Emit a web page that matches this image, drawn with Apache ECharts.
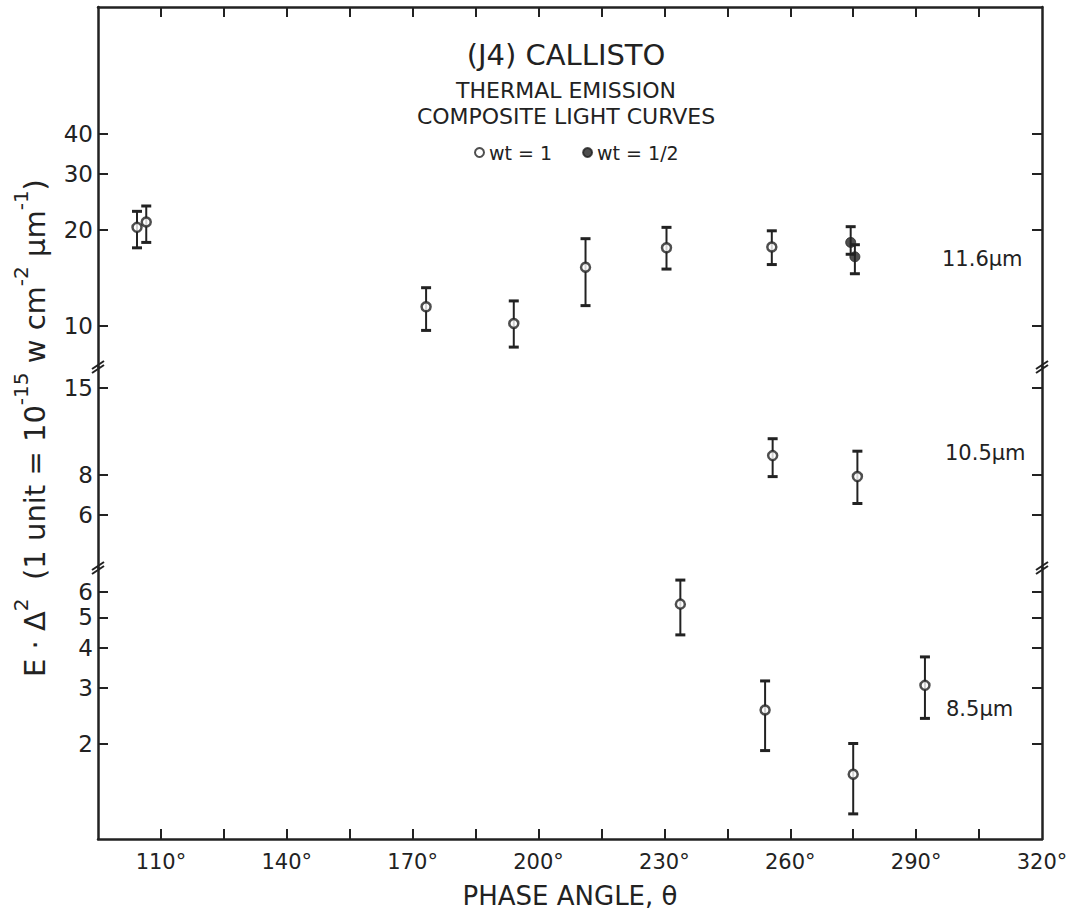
<!DOCTYPE html>
<html><head><meta charset="utf-8">
<script src="https://cdn.jsdelivr.net/npm/echarts@6/dist/echarts.min.js"></script>
<style>html,body{margin:0;padding:0;background:#fff}#c{width:1079px;height:910px}</style>
</head><body><div id="c"></div>
<script>
// ---- tick values / labels ----
const xTickValues = [110,125,140,155,170,185,200,215,230,245,260,275,290,305];
const xLabelValues = [110,140,170,200,230,260,290,320];
const yTicks116 = [10,20,30,40];
const yTicks105 = [6,8,15];
const yTicks85 = [2,3,4,5,6];

// ---- 11.6 µm, wt = 1 ----
const phase116 = [104.3, 106.5, 173.2, 194.1, 211.2, 230.5, 255.6];
const value116 = [20.4, 21.2, 11.5, 10.2, 15.3, 17.6, 17.7];
const low116   = [17.6, 18.3, 9.7, 8.6, 11.6, 15.1, 15.6];
const high116  = [22.9, 23.8, 13.2, 12.0, 18.8, 20.4, 19.9];
// ---- 11.6 µm, wt = 1/2 ----
const phase116h = [274.4, 275.4];
const value116h = [18.3, 16.5];
const low116h   = [16.8, 14.6];
const high116h  = [20.5, 18.0];
// ---- 10.5 µm, wt = 1 ----
const phase105 = [255.8, 276.0];
const value105 = [9.2, 7.9];
const low105   = [7.9, 6.5];
const high105  = [10.4, 9.5];
// ---- 8.5 µm, wt = 1 ----
const phase85 = [233.8, 254.0, 275.0, 292.1];
const value85 = [5.5, 2.55, 1.6, 3.05];
const low85   = [4.4, 1.9, 1.2, 2.4];
const high85  = [6.55, 3.15, 2.0, 3.75];

const INK = '#222';
const FONT = 'DejaVu Sans';

function pts(ph, v) { return ph.map((p, i) => [p, v[i]]); }
function bars(ph, lo, hi) { return ph.map((p, i) => [p, lo[i], hi[i]]); }

function errRender(params, api) {
  const x = api.value(0), lo = api.value(1), hi = api.value(2);
  const a = api.coord([x, lo]), b = api.coord([x, hi]);
  const cw = 5;
  const st = {stroke: INK, lineWidth: 2};
  const cst = {stroke: INK, lineWidth: 3};
  return {type: 'group', children: [
    {type: 'line', shape: {x1: a[0], y1: a[1], x2: b[0], y2: b[1]}, style: st},
    {type: 'line', shape: {x1: a[0]-cw, y1: a[1], x2: a[0]+cw, y2: a[1]}, style: cst},
    {type: 'line', shape: {x1: b[0]-cw, y1: b[1], x2: b[0]+cw, y2: b[1]}, style: cst}
  ]};
}

const grids = [
  {left: 98, right: 37, top: 7, height: 360},
  {left: 98, right: 37, top: 367, height: 201},
  {left: 98, right: 37, top: 568, height: 274}
];
const yExt = [[7.45, 100], [4.07, 17.5], [1, 7.15]];
const yTicks = [yTicks116, yTicks105, yTicks85];

const axisLine = {show: true, lineStyle: {color: INK, width: 2.5}};
const xAxes = grids.map((g, i) => ({
  type: 'value', gridIndex: i, min: 95, max: 320,
  position: i === 0 ? 'top' : 'bottom',
  show: i !== 1,
  axisLine: axisLine,
  axisTick: {show: true, inside: true, length: 10, lineStyle: {color: INK, width: 2}, customValues: xTickValues},
  axisLabel: {show: i === 2, customValues: xLabelValues, formatter: '{value}°', fontSize: 21, color: INK, fontFamily: FONT, margin: 12},
  splitLine: {show: false},
  name: i === 2 ? 'PHASE ANGLE, θ' : '',
  nameLocation: 'middle', nameGap: 44,
  nameTextStyle: {fontSize: 26, color: INK, fontFamily: FONT}
}));
const yAxes = [];
grids.forEach((g, i) => {
  ['left', 'right'].forEach(pos => {
    yAxes.push({
      type: 'log', logBase: 10, gridIndex: i, position: pos,
      min: yExt[i][0], max: yExt[i][1],
      axisLine: axisLine,
      axisTick: {show: true, inside: true, length: 10, lineStyle: {color: INK, width: 2}, customValues: yTicks[i]},
      axisLabel: {show: pos === 'left', customValues: yTicks[i], fontSize: 23, color: INK, fontFamily: FONT, margin: 5},
      splitLine: {show: false}, minorTick: {show: false}
    });
  });
});

const openStyle = {color: '#fff', borderColor: INK, borderWidth: 2.5};
const fillStyle = {color: INK, borderColor: INK, borderWidth: 1};

const series = [
  {type: 'custom', name: 'err116', xAxisIndex: 0, yAxisIndex: 0, renderItem: errRender, data: bars(phase116, low116, high116), z: 1},
  {type: 'custom', name: 'err116h', xAxisIndex: 0, yAxisIndex: 0, renderItem: errRender, data: bars(phase116h, low116h, high116h), z: 1},
  {type: 'custom', name: 'err105', xAxisIndex: 1, yAxisIndex: 2, renderItem: errRender, data: bars(phase105, low105, high105), z: 1},
  {type: 'custom', name: 'err85', xAxisIndex: 2, yAxisIndex: 4, renderItem: errRender, data: bars(phase85, low85, high85), z: 1},
  {type: 'scatter', name: 'wt = 1', xAxisIndex: 0, yAxisIndex: 0, symbol: 'circle', symbolSize: 9, itemStyle: openStyle, data: pts(phase116, value116), z: 3},
  {type: 'scatter', name: 'wt = 1/2', xAxisIndex: 0, yAxisIndex: 0, symbol: 'circle', symbolSize: 10, itemStyle: fillStyle, data: pts(phase116h, value116h), z: 3},
  {type: 'scatter', name: 'wt = 1', xAxisIndex: 1, yAxisIndex: 2, symbol: 'circle', symbolSize: 9, itemStyle: openStyle, data: pts(phase105, value105), z: 3},
  {type: 'scatter', name: 'wt = 1', xAxisIndex: 2, yAxisIndex: 4, symbol: 'circle', symbolSize: 9, itemStyle: openStyle, data: pts(phase85, value85), z: 3}
];

function breakMark(x, y) {
  return {type: 'group', children: [
    {type: 'line', shape: {x1: x-6, y1: y+2, x2: x+6, y2: y-6}, style: {stroke: INK, lineWidth: 2}},
    {type: 'line', shape: {x1: x-6, y1: y+6, x2: x+6, y2: y-2}, style: {stroke: INK, lineWidth: 2}}
  ]};
}

const option = {
  backgroundColor: '#fff',
  animation: false,
  title: {
    text: '(J4) CALLISTO',
    subtext: 'THERMAL EMISSION\nCOMPOSITE LIGHT CURVES',
    left: 561, top: 35, textAlign: 'center', itemGap: 8,
    textStyle: {fontSize: 29, fontWeight: 'normal', color: INK, fontFamily: FONT},
    subtextStyle: {fontSize: 22, color: INK, fontFamily: FONT, lineHeight: 26}
  },
  legend: {
    data: ['wt = 1', 'wt = 1/2'], left: 469, top: 138,
    itemWidth: 9, itemHeight: 9, itemGap: 30,
    textStyle: {fontSize: 19, color: INK, fontFamily: FONT}
  },
  grid: grids,
  xAxis: xAxes,
  yAxis: yAxes,
  series: series,
  graphic: [
    {type: 'text', x: 30, y: 428, rotation: Math.PI/2,
     style: {
       text: '{b|E · Δ}{s|2}{b|  (1 unit = 10}{s|-15}{b| w cm}{s|-2}{b| µm}{s|-1}{b|)}',
       fill: INK, align: 'center', verticalAlign: 'middle',
       rich: {
         b: {fontSize: 29, fontFamily: FONT, fill: INK, lineHeight: 38, verticalAlign: 'bottom'},
         s: {fontSize: 20, fontFamily: FONT, fill: INK, lineHeight: 38, verticalAlign: 'top'}
       }
     }},
    {type: 'text', x: 942, y: 259, style: {text: '11.6µm', font: '21px "DejaVu Sans"', fill: INK, verticalAlign: 'middle'}},
    {type: 'text', x: 945, y: 453, style: {text: '10.5µm', font: '21px "DejaVu Sans"', fill: INK, verticalAlign: 'middle'}},
    {type: 'text', x: 946, y: 709, style: {text: '8.5µm', font: '21px "DejaVu Sans"', fill: INK, verticalAlign: 'middle'}},
    breakMark(98, 367), breakMark(98, 568), breakMark(1042, 367), breakMark(1042, 568)
  ]
};
const chart = echarts.init(document.getElementById('c'), null, {renderer: 'svg'});
chart.setOption(option);
</script></body></html>
